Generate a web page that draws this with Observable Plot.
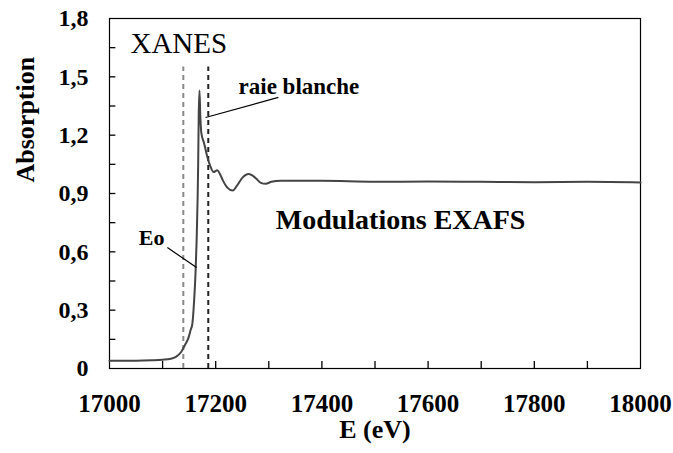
<!DOCTYPE html>
<html>
<head>
<meta charset="utf-8">
<script src="https://cdn.jsdelivr.net/npm/d3@7"></script>
<script src="https://cdn.jsdelivr.net/npm/@observablehq/plot@0.6"></script>
<style>
  html, body { margin: 0; padding: 0; background: #ffffff; }
  #chart svg text { font-family: "Liberation Serif", "Times New Roman", Times, serif !important; }
</style>
</head>
<body>
<div id="chart"></div>
<script>
// Spectrum values
const energy = [17000, 17050, 17080, 17100, 17115, 17125, 17135, 17142, 17149, 17153, 17156, 17160, 17162, 17164, 17166, 17167, 17168, 17169.5, 17171, 17173, 17178, 17185, 17190, 17196, 17203, 17208, 17213, 17222, 17232, 17240, 17250, 17262, 17275, 17285, 17294, 17305, 17322, 17400, 17500, 17600, 17700, 17800, 17900, 18000];
const absorption = [0.04, 0.04, 0.042, 0.045, 0.05, 0.06, 0.085, 0.12, 0.16, 0.2, 0.23, 0.38, 0.49, 0.65, 0.88, 1.05, 1.3, 1.43, 1.3, 1.21, 1.16, 1.08, 1.04, 1.01, 1.02, 1.0, 0.97, 0.93, 0.915, 0.94, 0.98, 1.0, 0.98, 0.955, 0.95, 0.96, 0.965, 0.965, 0.96, 0.962, 0.96, 0.958, 0.96, 0.957];

// Axis ticks
const xTickLabels = [17000, 17200, 17400, 17600, 17800, 18000];
const xMinorTicks = [17100, 17200, 17300, 17400, 17500, 17600, 17700, 17800, 17900];
const yTickLabels = [0, 0.3, 0.6, 0.9, 1.2, 1.5, 1.8];
const yMinorTicks = [0.15, 0.3, 0.45, 0.6, 0.75, 0.9, 1.05, 1.2, 1.35, 1.5, 1.65];

// Dashed region markers (energies)
const markerEnergies = [17139, 17186];
const markerColors = ["#8a8a8a", "#222222"];
const markerTop = 1.55;

// Annotations
const annLabels = ["XANES", "raie blanche", "Modulations EXAFS", "Eo"];
const annX = [17039.5, 17243, 17313, 17055];
const annY = [1.668, 1.452, 0.766, 0.669];
const leaderX1 = [17318, 17109];
const leaderY1 = [1.394, 0.622];
const leaderX2 = [17181, 17164];
const leaderY2 = [1.291, 0.519];

const spectrum = energy.map((e, i) => ({e, a: absorption[i]}));
const markers = markerEnergies.map((e, i) => ({e, c: markerColors[i]}));
const ann = annLabels.map((t, i) => ({t, x: annX[i], y: annY[i]}));
const leaders = leaderX1.map((x1, i) => ({x1, y1: leaderY1[i], x2: leaderX2[i], y2: leaderY2[i], i}));

const serif = "Liberation Serif, Times New Roman, Times, serif";
const fmtY = d => d === 0 ? "0" : d.toFixed(1).replace(".", ",");

const chart = Plot.plot({
  width: 673,
  height: 453,
  marginLeft: 109,
  marginRight: 33,
  marginTop: 18,
  marginBottom: 85,
  style: {fontFamily: serif, background: "#ffffff", color: "#000000"},
  x: {domain: [17000, 18000]},
  y: {domain: [0, 1.8]},
  marks: [
    Plot.frame({stroke: "#000", strokeWidth: 1.2}),
    Plot.ruleX(xMinorTicks, {x: d => d, y1: 0, y2: 0.036, stroke: "#000", strokeWidth: 1.3}),
    Plot.ruleY(yMinorTicks, {y: d => d, x1: 17000, x2: 17012, stroke: "#000", strokeWidth: 1.3}),
    Plot.axisX({ticks: xTickLabels, tickSize: 0, tickPadding: 26, tickFormat: d => String(d), fontSize: 25, fontWeight: "bold", fontFamily: serif, label: null}),
    Plot.axisY({ticks: yTickLabels, tickSize: 0, tickPadding: 21, tickFormat: fmtY, fontSize: 24, fontWeight: "bold", fontFamily: serif, label: null}),
    Plot.ruleX(markers, {x: "e", y1: 0, y2: markerTop, stroke: "c", strokeWidth: 2, strokeDasharray: "5,4"}),
    Plot.line(spectrum, {x: "e", y: "a", stroke: "#444", strokeWidth: 2, curve: "monotone-x"}),
    Plot.link(leaders, {x1: "x1", y1: "y1", x2: "x2", y2: "y2", stroke: "#000", strokeWidth: 1.2, strokeDasharray: d => d.i === 0 ? "4,2" : "2,1.5"}),
    Plot.text(ann.slice(0, 1), {x: "x", y: "y", text: "t", textAnchor: "start", fontSize: 29, fontFamily: serif, fill: "#000"}),
    Plot.text(ann.slice(1, 2), {x: "x", y: "y", text: "t", textAnchor: "start", fontSize: 23, fontWeight: "bold", fontFamily: serif, fill: "#000"}),
    Plot.text(ann.slice(2, 3), {x: "x", y: "y", text: "t", textAnchor: "start", fontSize: 28, fontWeight: "bold", fontFamily: serif, fill: "#000"}),
    Plot.text(ann.slice(3, 4), {x: "x", y: "y", text: "t", textAnchor: "start", fontSize: 22, fontWeight: "bold", fontFamily: serif, fill: "#000"}),
    Plot.text(["E (eV)"], {frameAnchor: "bottom", dy: 69, text: d => d, fontSize: 26, fontWeight: "bold", fontFamily: serif, fill: "#000"}),
    Plot.text(["Absorption"], {frameAnchor: "left", dx: -84, dy: -11, rotate: -90, text: d => d, fontSize: 26, fontWeight: "bold", fontFamily: serif, fill: "#000"})
  ]
});
// force the serif face on every text node (attribute + inline style)
chart.setAttribute("font-family", serif);
d3.select(chart).selectAll("text, tspan, g").attr("font-family", serif).style("font-family", serif);
document.getElementById("chart").append(chart);
</script>
</body>
</html>
